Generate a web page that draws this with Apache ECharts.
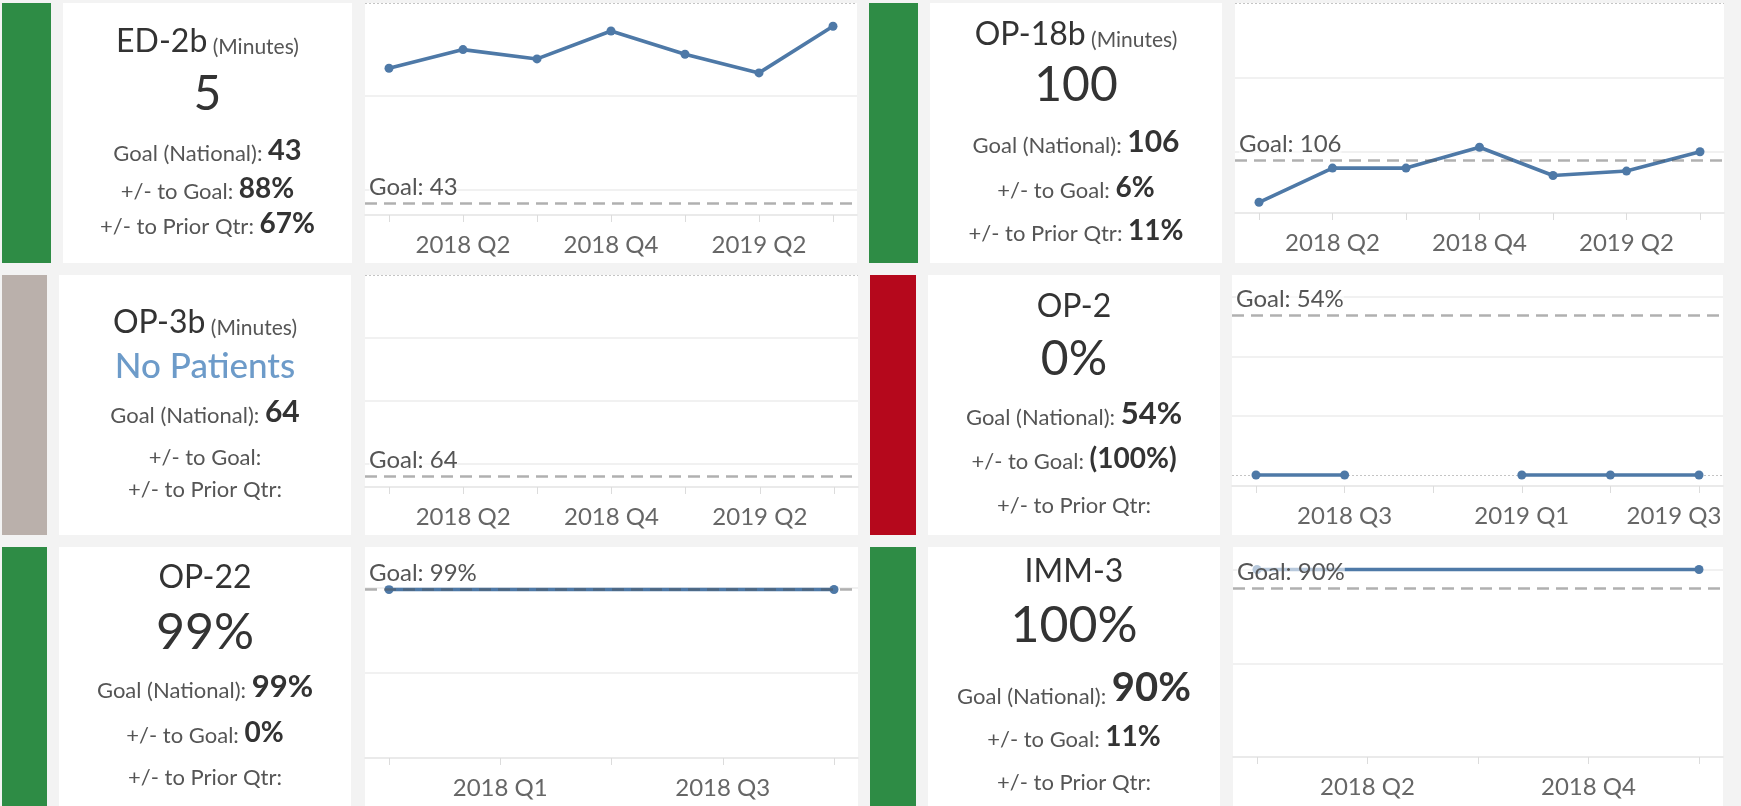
<!DOCTYPE html>
<html>
<head>
<meta charset="utf-8">
<title>Measures</title>
<script src="https://cdn.jsdelivr.net/npm/echarts@6/dist/echarts.min.js"></script>
<style>
    html, body { margin: 0; padding: 0; background: #f3f3f3; }
    #main { width: 1741px; height: 806px; }
</style>
</head>
<body>
<div id="main"></div>
<script>
// card texts
var measures = ['ED-2b', 'OP-18b', 'OP-3b', 'OP-2', 'OP-22', 'IMM-3'];
var units = ['(Minutes)', '(Minutes)', '(Minutes)', '', '', ''];
var currentText = ['5', '100', 'No Patients', '0%', '99%', '100%'];
var goalText = ['43', '106', '64', '54%', '99%', '90%'];
var toGoalText = ['88%', '6%', '', '(100%)', '0%', '11%'];
var toPriorText = ['67%', '11%', '', '', '', ''];
var tileStatus = ['good', 'good', 'none', 'bad', 'good', 'good'];
var goals = [43, 106, 64, 54, 99, 90];

// quarters on each x axis
var quartersA = ['2018 Q1', '2018 Q2', '2018 Q3', '2018 Q4', '2019 Q1', '2019 Q2', '2019 Q3'];
var quartersB = ['2018 Q2', '2018 Q3', '2018 Q4', '2019 Q1', '2019 Q2', '2019 Q3'];
var quartersC = ['2017 Q4', '2018 Q1', '2018 Q2', '2018 Q3', '2018 Q4'];
var quartersD = ['2018 Q1', '2018 Q2', '2018 Q3', '2018 Q4', '2019 Q1'];
// tick labels shown
var shownA = ['2018 Q2', '2018 Q4', '2019 Q2'];
var shownB = ['2018 Q3', '2019 Q1', '2019 Q3'];
var shownC = ['2018 Q1', '2018 Q3'];
var shownD = ['2018 Q2', '2018 Q4'];

// quarterly values
var ed2b = [14, 10, 12, 6, 11, 15, 5];
var op18b = [134, 111, 111, 97, 116, 113, 100];
var op3b = [null, null, null, null, null, null, null];
var op2 = [0, 0, null, 0, 0, 0];
var op22 = [99, null, null, null, 99];
var imm3 = [100, null, null, null, 100];

// gridline values
var gridA = [20, 40];
var gridB = [50, 100];
var gridC = [20, 40, 60];

var values = [ed2b, op18b, op3b, op2, op22, imm3];
var quarterList = [quartersA, quartersA, quartersA, quartersB, quartersC, quartersD];
var shownList = [shownA, shownA, shownA, shownB, shownC, shownD];
var gridList = [gridA, gridB, gridC, gridC, gridB, gridB];

var FONT = 'Lato, "Open Sans", sans-serif';
var lineBlue = '#4e79a7';
var statusColors = {good: '#2e8c45', bad: '#b5081c', none: '#bab0ab'};

// layout of the six tiles
var panels = [
    {bar: [2, 49], card: [63, 289], plot: [365, 492], row: [3, 260], gridTop: 3, gridH: 212,
        yMin: 0, yMax: 45.5, inverse: true, zeroLine: true, lines: [52, 112, 160, 198, 233], bigSize: 48, goalSize: 29},
    {bar: [869, 49], card: [930, 292], plot: [1235, 489], row: [3, 260], gridTop: 3, gridH: 210,
        yMin: 0, yMax: 141.2, inverse: true, zeroLine: true, lines: [45, 103, 152, 197, 240], bigSize: 48, goalSize: 30},
    {bar: [2, 45], card: [59, 292], plot: [365, 493], row: [275, 260], gridTop: 275, gridH: 212,
        yMin: 0, yMax: 67.3, inverse: true, zeroLine: true, lines: [333, 378, 422, 465, 497], bigSize: 35, goalSize: 30},
    {bar: [870, 46], card: [928, 292], plot: [1232, 491], row: [275, 260], gridTop: 275, gridH: 211,
        yMin: -3.7, yMax: 67.4, inverse: false, zeroLine: true, lines: [317, 377, 424, 468, 513], bigSize: 48, goalSize: 31, lastShift: 50},
    {bar: [2, 45], card: [59, 292], plot: [365, 493], row: [547, 262], gridTop: 547, gridH: 211,
        yMin: 0, yMax: 124, inverse: false, zeroLine: false, lines: [588, 650, 697, 742, 785], bigSize: 50, goalSize: 31, connect: true},
    {bar: [870, 46], card: [928, 292], plot: [1233, 490], row: [547, 262], gridTop: 547, gridH: 210,
        yMin: 0, yMax: 112, inverse: false, zeroLine: false, lines: [582, 643, 702, 746, 790], bigSize: 50, goalSize: 40, connect: true}
];

var myChart = echarts.init(document.getElementById('main'));

function font(size, weight) {
    return (weight ? weight + ' ' : '') + size + 'px ' + FONT;
}

function textLine(x, baseline, maxSize, text, rich) {
    return {
        type: 'text', x: x, y: baseline + Math.round(0.11 * maxSize) + 2, z: 10, silent: true,
        style: {text: text, rich: rich, align: 'center', verticalAlign: 'bottom', textAlign: 'center', textVerticalAlign: 'bottom'}
    };
}

var grids = [], xAxes = [], yAxes = [], series = [], graphics = [];

panels.forEach(function (p, i) {
    var q = quarterList[i];
    var n = q.length;
    var pad = 24 * (n - 1) / (p.plot[1] - 48);
    var tickIdx = q.map(function (d, k) { return k; });
    var labelIdx = shownList[i].map(function (d) { return q.indexOf(d); });

    grids.push({left: p.plot[0], top: p.gridTop, width: p.plot[1], height: p.gridH, containLabel: false});
    xAxes.push({
        type: 'value', gridIndex: i, min: -pad, max: n - 1 + pad, z: 1,
        splitLine: {show: false},
        axisLine: {show: true, onZero: false, lineStyle: {color: '#e3e3e3', width: 1.5}},
        axisTick: {show: true, customValues: tickIdx, length: 7, lineStyle: {color: '#dcdcdc', width: 1}},
        axisLabel: {
            customValues: labelIdx, color: '#666', fontSize: 24, fontFamily: FONT, margin: 18,
            formatter: function (v) {
                var k = Math.round(v);
                return (p.lastShift && k === n - 1) ? '{e|' + q[k] + '}' : q[k];
            },
            rich: {e: {padding: [0, p.lastShift || 0, 0, 0]}}
        }
    });
    yAxes.push({type: 'value', gridIndex: i, min: p.yMin, max: p.yMax, inverse: p.inverse, show: false});

    var gridLines = gridList[i].map(function (v) { return {yAxis: v}; });
    if (p.zeroLine) {
        gridLines.push({yAxis: 0, lineStyle: {color: '#c4c4c4', type: [2, 2], width: 1}});
    }
    // gridlines, under the data
    series.push({
        type: 'line', xAxisIndex: i, yAxisIndex: i, z: 1, silent: true, data: [],
        markLine: {
            z: 1, silent: true, symbol: 'none', label: {show: false},
            lineStyle: {color: '#ececec', type: 'solid', width: 1.5},
            data: gridLines
        }
    });
    series.push({
        type: 'line', xAxisIndex: i, yAxisIndex: i, z: 3, silent: true, connectNulls: !!p.connect,
        symbol: 'circle', symbolSize: 9, showSymbol: true,
        lineStyle: {color: lineBlue, width: 3.6},
        itemStyle: {color: lineBlue},
        data: values[i].map(function (v, k) { return [k, v == null ? '-' : v]; })
    });
    // goal reference line, over the data
    series.push({
        type: 'line', xAxisIndex: i, yAxisIndex: i, z: 6, silent: true, data: [],
        markLine: {
            z: 6, silent: true, symbol: 'none',
            lineStyle: {color: 'rgba(80,80,80,0.45)', type: [12, 7], width: 2.5},
            label: {
                show: true, position: 'insideStartTop', distance: [4, 4],
                formatter: 'Goal: ' + goalText[i],
                color: '#555', fontSize: 24, fontFamily: FONT,
                backgroundColor: 'rgba(255,255,255,0.6)'
            },
            data: [{yAxis: goals[i]}]
        }
    });

    // tile backgrounds
    graphics.push({type: 'rect', z: -1, silent: true,
        shape: {x: p.bar[0], y: p.row[0], width: p.bar[1], height: p.row[1]},
        style: {fill: statusColors[tileStatus[i]]}});
    graphics.push({type: 'rect', z: -1, silent: true,
        shape: {x: p.card[0], y: p.row[0], width: p.card[1], height: p.row[1]},
        style: {fill: '#fff'}});
    graphics.push({type: 'rect', z: -1, silent: true,
        shape: {x: p.plot[0], y: p.row[0], width: p.plot[1], height: p.row[1]},
        style: {fill: '#fff'}});

    // card texts
    var cx = p.card[0] + p.card[1] / 2;
    var rich = {
        t: {font: font(32), fill: '#333', verticalAlign: 'bottom'},
        u: {font: font(21), fill: '#555', verticalAlign: 'bottom'},
        b: {font: font(p.bigSize), fill: '#333', verticalAlign: 'bottom'},
        np: {font: font(p.bigSize, 500), fill: '#6d9bc9', verticalAlign: 'bottom'},
        l: {font: font(22), fill: '#555', verticalAlign: 'bottom'},
        g: {font: font(p.goalSize, 'bold'), fill: '#333', verticalAlign: 'bottom'},
        v: {font: font(28, 'bold'), fill: '#333', verticalAlign: 'bottom'}
    };
    var title = '{t|' + measures[i] + '}' + (units[i] ? '{u| ' + units[i] + '}' : '');
    var big = (tileStatus[i] === 'none' ? '{np|' : '{b|') + currentText[i] + '}';
    var goalLine = '{l|Goal (National): }{g|' + goalText[i] + '}';
    var toGoal = toGoalText[i] ? '{l|+/- to Goal: }{v|' + toGoalText[i] + '}' : '{l|+/- to Goal:}';
    var toPrior = toPriorText[i] ? '{l|+/- to Prior Qtr: }{v|' + toPriorText[i] + '}' : '{l|+/- to Prior Qtr:}';
    graphics.push(textLine(cx, p.lines[0], 32, title, rich));
    graphics.push(textLine(cx, p.lines[1], p.bigSize, big, rich));
    graphics.push(textLine(cx, p.lines[2], p.goalSize, goalLine, rich));
    graphics.push(textLine(cx, p.lines[3], toGoalText[i] ? 28 : 22, toGoal, rich));
    graphics.push(textLine(cx, p.lines[4], toPriorText[i] ? 28 : 22, toPrior, rich));
});

var option = {
    animation: false,
    grid: grids,
    xAxis: xAxes,
    yAxis: yAxes,
    graphic: {elements: graphics},
    series: series
};

myChart.setOption(option);

window.addEventListener("resize", function () {
    myChart.resize();
});
</script>
</body>
</html>
